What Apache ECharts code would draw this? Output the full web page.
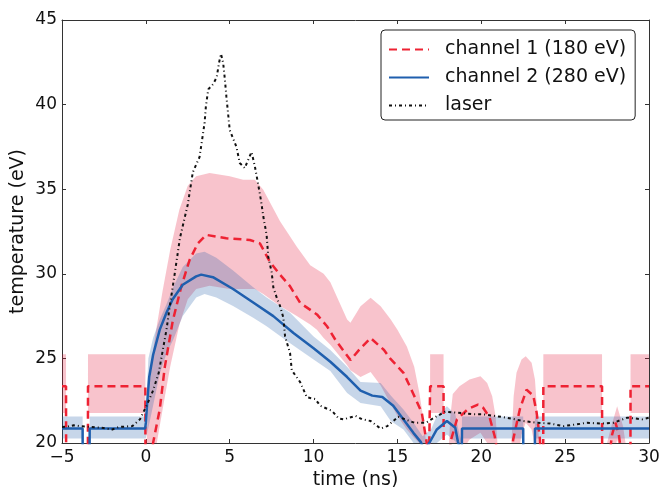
<!DOCTYPE html>
<html>
<head>
    <meta charset="utf-8">
    <title>temperature vs time</title>
    <script src="https://cdn.jsdelivr.net/npm/echarts@6/dist/echarts.min.js"></script>
    <style>
        html, body { margin: 0; padding: 0; background: #fff; }
        #main { width: 661px; height: 487px; }
    </style>
</head>
<body>
<div id="main"></div>
<script type="text/javascript">
    // channel 1 (180 eV): [time, temperature]
    var ch1Line = [[-5, 23.35], [-4.76, 23.35], [-4.75, 17], [-3.46, 17], [-3.45, 23.35], [-0.03, 23.35], [-0.02, 17],
        [0.2, 17.5], [0.43, 20.0], [0.83, 22.0], [1.13, 24.5], [1.6, 27.2], [2.1, 29.2], [2.6, 30.8], [3.1, 31.8],
        [3.6, 32.3], [4.8, 32.1], [6.2, 32.0], [6.8, 31.8], [7.4, 30.7], [8.0, 29.95], [8.6, 29.26], [9.2, 28.28],
        [10.2, 27.6], [10.8, 26.9], [11.3, 26.1], [12.2, 24.9], [12.8, 25.6], [13.4, 26.2], [14.2, 25.5], [14.56, 25.0],
        [15.36, 24.15], [15.95, 22.9], [16.45, 21.8], [16.75, 20.0], [16.85, 17], [16.94, 17], [16.95, 23.35],
        [17.75, 23.35], [17.76, 17], [18.0, 18.5], [18.2, 20.2], [18.55, 21.4], [19.2, 22.0], [19.8, 22.27],
        [20.1, 22.1], [20.5, 21.5], [20.8, 20.4], [20.95, 19.5], [21.2, 18], [21.7, 18], [21.9, 20.2], [22.3, 22.0],
        [22.7, 23.15], [23.1, 22.8], [23.3, 21.8], [23.5, 20.2], [23.6, 18], [23.69, 17], [23.7, 23.35], [27.2, 23.35],
        [27.21, 17], [27.6, 19], [27.8, 20.5], [28.0, 21.2], [28.2, 20.5], [28.4, 19], [28.89, 17], [28.9, 23.35],
        [30, 23.35]];
    // channel 1 band: [time, low, high]
    var ch1Band = [[-5, 21.78, 25.25], [-4.76, 21.78, 25.25], [-4.75, 15, 15.5], [-3.46, 15, 15.5], [-3.45, 21.78, 25.25],
        [-0.03, 21.78, 25.25], [-0.02, 15, 16], [0.0, 15, 18.5], [0.1, 16, 21.5], [0.25, 17, 23.8], [0.45, 18.5, 25.6],
        [0.65, 20.0, 26.9], [1.0, 22.0, 29.0], [1.45, 24.5, 31.4], [2.0, 27.0, 33.8], [2.5, 28.5, 35.2], [3.0, 29.1, 35.76],
        [3.8, 29.3, 35.96], [5.0, 29.1, 35.76], [5.8, 29.1, 35.56], [6.5, 29.1, 35.56], [7.0, 28.8, 34.97], [8.0, 28.1, 33.1],
        [9.0, 27.5, 31.6], [9.8, 27.0, 30.5], [10.2, 26.7, 30.25], [10.6, 26.2, 30.0], [11.0, 25.8, 29.5], [12.0, 24.6, 27.3],
        [12.2, 24.3, 27.1], [12.8, 23.9, 28.08], [13.4, 24.2, 28.58], [14.0, 23.4, 28.08], [14.6, 22.3, 27.3],
        [15.0, 21.6, 26.7], [15.56, 20.8, 25.7], [16.0, 20.3, 24.5], [16.3, 20.0, 23.0], [16.55, 19.8, 21.4],
        [16.7, 19.6, 20.1], [16.75, 15, 15.5], [16.94, 15, 15.5], [16.95, 21.78, 25.25], [17.75, 21.78, 25.25],
        [17.76, 15, 15.5], [18.05, 16, 19.5], [18.15, 17, 21.5], [18.3, 18, 22.9], [18.7, 19.3, 23.35], [19.3, 20.2, 23.75],
        [19.95, 20.6, 23.94], [20.35, 20.0, 23.55], [20.65, 19.0, 22.76], [20.85, 18.5, 21.6], [20.95, 18, 20.2],
        [21.1, 15, 17], [21.7, 15, 17.5], [21.8, 16, 20.0], [21.93, 17, 22.76], [22.1, 18.5, 24.15], [22.4, 20.5, 24.93],
        [22.65, 21.2, 25.13], [23.0, 20.8, 24.74], [23.2, 19.8, 23.75], [23.35, 19, 21.6], [23.45, 18, 20.0],
        [23.6, 15, 16], [23.69, 15, 15.5], [23.7, 21.78, 25.25], [27.2, 21.78, 25.25], [27.21, 15, 15.5],
        [27.5, 17, 20.0], [27.7, 18.5, 20.8], [28.1, 20.2, 22.17], [28.45, 19.2, 21.0], [28.6, 18, 20.0],
        [28.7, 15, 16], [28.89, 15, 15.5], [28.9, 21.78, 25.25], [30, 21.78, 25.25]];

    // channel 2 (280 eV)
    var ch2Line = [[-5, 20.86], [-3.77, 20.86], [-3.76, 17], [-3.36, 17], [-3.35, 20.86], [-0.04, 20.86], [0.0, 21.2],
        [0.1, 22.6], [0.2, 23.9], [0.43, 25.2], [0.83, 26.7], [1.23, 27.7], [1.6, 28.5], [2.2, 29.35], [3.0, 29.85],
        [3.3, 29.95], [4.0, 29.8], [5.2, 29.1], [6.4, 28.3], [7.6, 27.5], [8.8, 26.5], [10.0, 25.6], [11.0, 24.8],
        [12.0, 23.9], [12.8, 23.1], [13.5, 22.8], [14.1, 22.72], [14.75, 22.2], [15.35, 21.4], [15.95, 20.6],
        [16.4, 20.05], [16.5, 19.8], [16.7, 19.7], [16.9, 20.0], [17.35, 20.8], [17.95, 21.3], [18.45, 20.9],
        [18.6, 20.1], [18.75, 19.6], [18.84, 19.4], [18.85, 20.86], [22.5, 20.86], [22.51, 17], [23.19, 17],
        [23.2, 20.86], [30, 20.86]];
    var ch2Band = [[-5, 20.27, 21.56], [-3.77, 20.27, 21.56], [-3.76, 16, 17], [-3.36, 16, 17], [-3.35, 20.27, 21.56],
        [-0.04, 20.27, 21.56], [0.0, 20.3, 21.9], [0.15, 20.9, 25.0], [0.43, 22.2, 26.2], [0.83, 24.1, 27.3],
        [1.23, 25.3, 28.2], [1.63, 26.1, 29.2], [2.2, 27.5, 30.4], [3.0, 28.6, 31.2], [3.5, 28.8, 31.3],
        [4.2, 28.6, 30.95], [5.2, 28.1, 30.2], [6.4, 27.4, 29.2], [7.2, 26.9, 28.6], [8.6, 25.9, 27.7],
        [10.0, 24.93, 26.3], [11.0, 24.25, 25.5], [12.0, 22.96, 24.5], [12.8, 22.37, 23.6], [14.0, 22.17, 23.55],
        [14.6, 21.3, 22.8], [15.36, 20.8, 21.98], [15.96, 20.0, 21.2], [16.5, 19.2, 20.4], [17.0, 19.3, 20.8],
        [17.35, 20.0, 21.6], [17.95, 20.5, 22.17], [18.45, 20.1, 21.7], [18.7, 19.0, 20.5], [18.84, 18.6, 20.1],
        [18.85, 20.27, 21.56], [22.5, 20.27, 21.56], [22.51, 16, 17], [23.19, 16, 17], [23.2, 20.27, 21.56],
        [30, 20.27, 21.56]];

    // laser
    var laserLine = [[-5, 20.95], [-4.66, 20.97], [-4.3, 21.05], [-3.95, 21.0], [-3.3, 20.95], [-2.65, 20.9], [-2.0, 20.8],
        [-1.6, 20.95], [-1.25, 20.97], [-0.8, 21.0], [-0.35, 21.4], [0.04, 22.2], [0.43, 23.1], [0.77, 24.16],
        [0.93, 25.05], [1.23, 26.7], [1.43, 28.1], [1.73, 30.07], [2.03, 32.1], [2.5, 34.1], [2.8, 36.0], [3.2, 36.9],
        [3.35, 37.9], [3.5, 38.9], [3.58, 39.9], [3.72, 40.9], [4.0, 41.2], [4.22, 41.6], [4.37, 42.5], [4.48, 43.0],
        [4.61, 42.46], [4.71, 41.5], [4.8, 40.5], [4.9, 39.5], [5.0, 38.5], [5.4, 37.5], [5.6, 36.55], [5.9, 36.25],
        [6.0, 36.5], [6.3, 37.2], [6.5, 36.35], [6.7, 35.27], [6.87, 34.3], [7.0, 33.4], [7.2, 32.3], [7.3, 31.0],
        [7.5, 30.1], [7.6, 29.2], [7.8, 28.6], [8.0, 28.1], [8.2, 27.4], [8.3, 26.3], [8.6, 25.3], [8.7, 24.3],
        [9.2, 23.6], [9.6, 22.7], [10.1, 22.6], [10.4, 22.2], [11.1, 21.9], [11.5, 21.45], [11.8, 21.4], [12.5, 21.6],
        [12.9, 21.4], [13.4, 21.3], [14.0, 20.85], [14.4, 21.0], [14.75, 21.3], [15.05, 21.55], [16.0, 21.2],
        [16.7, 21.2], [17.2, 21.5], [17.85, 21.85], [18.45, 21.8], [19.5, 21.7], [20.1, 21.7], [21.5, 21.5],
        [22.5, 21.3], [23.3, 21.2], [24.1, 21.15], [24.9, 21.0], [25.7, 21.1], [26.3, 21.2], [27.1, 21.15],
        [27.9, 21.2], [28.7, 21.5], [29.6, 21.4], [30, 21.5]];

    var xTicks = {min: -5, max: 30, interval: 5};
    var yTicks = {min: 20, max: 45, interval: 5};
    var legendNames = ['channel 1 (180 eV)', 'channel 2 (280 eV)', 'laser'];

    var font = 'DejaVu Sans';
    var minus = function (v) { return String(v).replace('-', '\u2212'); };

    // band as one filled polygon: low edge forward, high edge backward
    function bandSeries(band, color) {
        return {
            type: 'custom', silent: true, clip: true, z: 1,
            data: [[band[0][0], band[0][1]]],
            renderItem: function (params, api) {
                var pts = [];
                for (var i = 0; i < band.length; i++) pts.push(api.coord([band[i][0], band[i][1]]));
                for (var j = band.length - 1; j >= 0; j--) pts.push(api.coord([band[j][0], band[j][2]]));
                return {type: 'polygon', shape: {points: pts}, style: {fill: color}};
            }
        };
    }

    var axisLineStyle = {show: true, onZero: false, lineStyle: {color: '#333', width: 1}};
    var tickStyle = {inside: true, length: 4, lineStyle: {color: '#333'}};

    var myChart = echarts.init(document.getElementById('main'));
    var option = {
        animation: false,
        backgroundColor: '#fff',
        textStyle: {fontFamily: font},
        grid: {left: 62, top: 20, right: 12, bottom: 44, outerBoundsMode: 'none', containLabel: false},
        legend: {
            data: legendNames, orient: 'vertical', left: 381, top: 30,
            itemWidth: 40, itemHeight: 20, itemGap: 9,
            padding: [10, 9, 5, 7],
            borderColor: '#222', borderWidth: 1, borderRadius: 4, backgroundColor: '#fff',
            itemStyle: {opacity: 0},
            textStyle: {fontFamily: font, fontSize: 19, color: '#111', padding: [0, 0, 0, 11]}
        },
        xAxis: [{
            type: 'value', min: xTicks.min, max: xTicks.max, interval: xTicks.interval,
            name: 'time (ns)', nameLocation: 'middle', nameGap: 27,
            nameTextStyle: {fontFamily: font, fontSize: 19, color: '#111'},
            splitLine: {show: false}, axisLine: axisLineStyle, axisTick: tickStyle,
            axisLabel: {fontFamily: font, fontSize: 17, color: '#111', margin: 6, formatter: minus}
        }, {
            type: 'value', position: 'top', min: xTicks.min, max: xTicks.max, interval: xTicks.interval,
            splitLine: {show: false}, axisLine: axisLineStyle, axisTick: tickStyle, axisLabel: {show: false}
        }],
        yAxis: [{
            type: 'value', min: yTicks.min, max: yTicks.max, interval: yTicks.interval,
            name: 'temperature (eV)', nameLocation: 'middle', nameGap: 34, nameMoveOverlap: false,
            nameTextStyle: {fontFamily: font, fontSize: 19, color: '#111'},
            splitLine: {show: false}, axisLine: axisLineStyle, axisTick: tickStyle,
            axisLabel: {fontFamily: font, fontSize: 17, color: '#111', margin: 5}
        }, {
            type: 'value', position: 'right', min: yTicks.min, max: yTicks.max, interval: yTicks.interval,
            splitLine: {show: false}, axisLine: axisLineStyle, axisTick: tickStyle, axisLabel: {show: false}
        }],
        series: [
            bandSeries(ch1Band, 'rgba(227,15,51,0.25)'),
            bandSeries(ch2Band, 'rgba(31,90,168,0.25)'),
            {
                name: legendNames[0], type: 'line', symbol: 'none', data: ch1Line, z: 3,
                lineStyle: {color: '#ee2233', width: 2.5, type: [8, 5]}, itemStyle: {color: '#ee2233'}
            }, {
                name: legendNames[1], type: 'line', symbol: 'none', data: ch2Line, z: 3,
                lineStyle: {color: '#1f5fae', width: 2.5}, itemStyle: {color: '#1f5fae'}
            }, {
                name: legendNames[2], type: 'line', symbol: 'none', data: laserLine, z: 4,
                lineStyle: {color: '#111', width: 2, type: [3, 3, 1, 3]}, itemStyle: {color: '#111'}
            }
        ]
    };
    myChart.setOption(option);
</script>
</body>
</html>
